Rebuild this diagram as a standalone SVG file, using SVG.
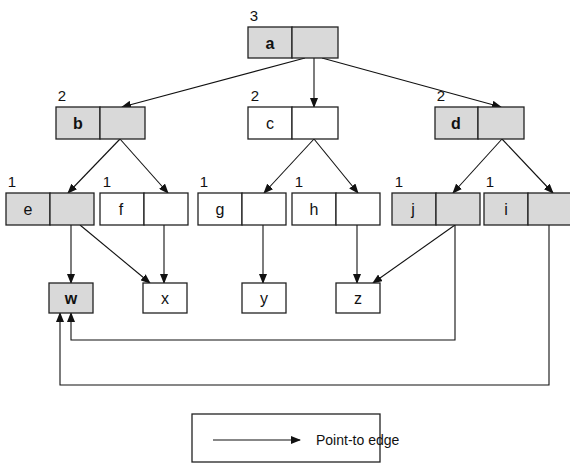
<svg xmlns="http://www.w3.org/2000/svg" width="570" height="464" viewBox="0 0 570 464">
<defs>
<marker id="ah" markerWidth="10" markerHeight="8" refX="9" refY="4" orient="auto" markerUnits="userSpaceOnUse">
<path d="M0,0 L10,4 L0,8 Z" fill="#111"/>
</marker>
</defs>
<style>
.box{stroke:#222;stroke-width:1.3;}
.sh{fill:#d9d9d9;}
.wh{fill:#fff;}
.lbl{font-family:"Liberation Sans",Arial,sans-serif;font-size:16px;fill:#111;text-anchor:middle;}
.num{font-family:"Liberation Sans",Arial,sans-serif;font-size:15px;fill:#111;text-anchor:middle;}
.e{stroke:#111;stroke-width:1.1;fill:none;marker-end:url(#ah);}
</style>
<rect width="570" height="464" fill="#fff"/>
<g id="connectors">
<line class="e" x1="305" y1="58" x2="122" y2="107"/>
<line class="e" x1="314" y1="58" x2="314" y2="107"/>
<line class="e" x1="322" y1="58" x2="501" y2="107"/>
<line class="e" x1="120" y1="139" x2="68" y2="193"/>
<line class="e" x1="120" y1="139" x2="168" y2="193"/>
<line class="e" x1="314" y1="139" x2="264" y2="193"/>
<line class="e" x1="314" y1="139" x2="358" y2="193"/>
<line class="e" x1="502" y1="139" x2="453" y2="193"/>
<line class="e" x1="502" y1="139" x2="553" y2="193"/>
<line class="e" x1="71" y1="225" x2="71" y2="283"/>
<line class="e" x1="80" y1="225" x2="150" y2="283"/>
<line class="e" x1="164" y1="225" x2="164" y2="283"/>
<line class="e" x1="263" y1="225" x2="263" y2="283"/>
<line class="e" x1="357" y1="225" x2="357" y2="283"/>
<line class="e" x1="455" y1="225" x2="373" y2="283"/>
<polyline class="e" points="455,225 455,340 71,340 71,313"/>
<polyline class="e" points="549,225 549,385 60,385 60,313"/>
</g>
<g id="a"><text class="num" x="254" y="21">3</text><rect class="box sh" x="248" y="27" width="44" height="31"/><rect class="box sh" x="292" y="27" width="46" height="31"/><text class="lbl" x="270" y="49" font-weight="bold">a</text></g>
<g id="b"><text class="num" x="62" y="101">2</text><rect class="box sh" x="56" y="107" width="44" height="32"/><rect class="box sh" x="100" y="107" width="45" height="32"/><text class="lbl" x="78" y="129" font-weight="bold">b</text></g>
<g id="c"><text class="num" x="255" y="101">2</text><rect class="box wh" x="248" y="107" width="44" height="32"/><rect class="box wh" x="292" y="107" width="46" height="32"/><text class="lbl" x="270" y="129">c</text></g>
<g id="d"><text class="num" x="441" y="101">2</text><rect class="box sh" x="435" y="107" width="43" height="32"/><rect class="box sh" x="478" y="107" width="46" height="32"/><text class="lbl" x="456" y="129" font-weight="bold">d</text></g>
<g id="e"><text class="num" x="12" y="187">1</text><rect class="box sh" x="6" y="193" width="44" height="32"/><rect class="box sh" x="50" y="193" width="44" height="32"/><text class="lbl" x="28" y="215">e</text></g>
<g id="f"><text class="num" x="107" y="187">1</text><rect class="box wh" x="100" y="193" width="44" height="32"/><rect class="box wh" x="144" y="193" width="44" height="32"/><text class="lbl" x="121" y="215">f</text></g>
<g id="g"><text class="num" x="204" y="187">1</text><rect class="box wh" x="198" y="193" width="44" height="32"/><rect class="box wh" x="242" y="193" width="44" height="32"/><text class="lbl" x="220" y="215">g</text></g>
<g id="h"><text class="num" x="299" y="187">1</text><rect class="box wh" x="292" y="193" width="44" height="32"/><rect class="box wh" x="336" y="193" width="44" height="32"/><text class="lbl" x="314" y="215">h</text></g>
<g id="j"><text class="num" x="399" y="187">1</text><rect class="box sh" x="392" y="193" width="44" height="32"/><rect class="box sh" x="436" y="193" width="44" height="32"/><text class="lbl" x="413" y="215">j</text></g>
<g id="i"><text class="num" x="490" y="187">1</text><rect class="box sh" x="484" y="193" width="44" height="32"/><rect class="box sh" x="528" y="193" width="44" height="32"/><text class="lbl" x="506" y="215">i</text></g>
<g id="w"><rect class="box sh" x="49" y="283" width="44" height="30"/><text class="lbl" x="71" y="304" font-weight="bold">w</text></g>
<g id="x"><rect class="box wh" x="143" y="283" width="44" height="30"/><text class="lbl" x="165" y="304">x</text></g>
<g id="y"><rect class="box wh" x="242" y="283" width="44" height="30"/><text class="lbl" x="264" y="304">y</text></g>
<g id="z"><rect class="box wh" x="336" y="283" width="44" height="30"/><text class="lbl" x="358" y="304">z</text></g>
<g id="legend"><rect class="box wh" x="192" y="414" width="188" height="48"/><line class="e" x1="213" y1="440" x2="300" y2="440"/><text x="316" y="445" font-family="Liberation Sans, Arial, sans-serif" font-size="14" fill="#111">Point-to edge</text></g>
</svg>
